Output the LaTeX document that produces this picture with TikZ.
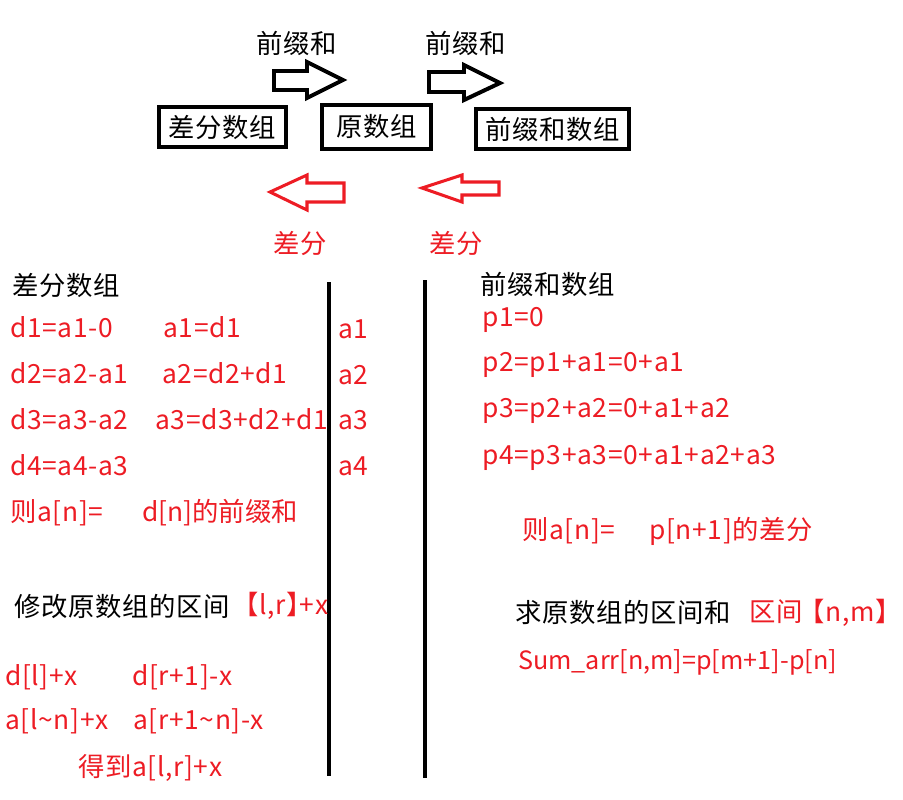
\documentclass[tikz,border=0pt]{standalone}
\usepackage{fontspec}
\setmainfont{Noto Sans CJK SC}[LetterSpace=2.5]
\newfontfamily\halffont{Noto Sans CJK SC}[LetterSpace=2.5, RawFeature=+halt]
\newfontfamily\tightfont{Noto Sans CJK SC}
\definecolor{pred}{RGB}{237,28,36}
\begin{document}
\begin{tikzpicture}[x=0.03cm,y=-0.03cm,
        txt/.style = {anchor=west, inner sep=0pt, font=\fontsize{22.5}{26}\selectfont},
        rtxt/.style = {txt, text=pred},
        box/.style = {draw, line width=3.4pt, inner sep=0pt, font=\fontsize{22.5}{26}\selectfont},
        barrow/.style = {draw, line width=3.4pt, line join=miter},
        rarrow/.style = {draw=pred, line width=2.6pt, line join=miter},
        bar/.style = {line width=3.4pt}]
    \useasboundingbox (0,0) rectangle (903,799);

    % top row
    \node[txt] (pre1) at (256,43) {前缀和};
    \node[txt] (pre2) at (425,43) {前缀和};
    \draw[barrow] (274,71) -- (307,71) -- (307,62) -- (343,80) -- (307,98) -- (307,90) -- (274,90) -- cycle;
    \draw[barrow] (429,72) -- (464,72) -- (464,65) -- (500,83) -- (464,100) -- (464,92) -- (429,92) -- cycle;
    \node[box, minimum width=3.81cm, minimum height=1.2cm] (diff) at (222.5,127) {差分数组};
    \node[box, minimum width=3.27cm, minimum height=1.32cm] (orig) at (376.5,127) {原数组};
    \node[box, minimum width=4.59cm, minimum height=1.2cm] (psum) at (552.5,129) {前缀和数组};
    \draw[rarrow] (344,183) -- (307,183) -- (307,175) -- (270,192) -- (307,210) -- (307,202) -- (344,202) -- cycle;
    \draw[rarrow] (499,182) -- (462,182) -- (462,175) -- (422,188) -- (462,202) -- (462,195) -- (499,195) -- cycle;
    \node[rtxt] (cf1) at (273,243) {差分};
    \node[rtxt] (cf2) at (429,243) {差分};

    % dividers
    \draw[bar] (329,282) -- (329,776);
    \draw[bar] (425,280) -- (425,778);

    % left part
    \node[txt] (dhead) at (12,285) {差分数组};
    \node[rtxt] (d1) at (10,327) {d1=a1-0};
    \node[rtxt] (d2) at (10,373) {d2=a2-a1};
    \node[rtxt] (d3) at (10,419) {d3=a3-a2};
    \node[rtxt] (d4) at (10,465) {d4=a4-a3};
    \node[rtxt] (e1) at (163,327) {a1=d1};
    \node[rtxt] (e2) at (162,373) {a2=d2+d1};
    \node[rtxt] (e3) at (155,419) {a3=d3+d2+d1};
    \node[rtxt] (dn1) at (10,513) {则a[n]=};
    \node[rtxt] (dn2) at (142,513) {\tightfont d[n]的前缀和};
    \node[rtxt] (a1) at (338,329) {a1};
    \node[rtxt] (a2) at (338,375) {a2};
    \node[rtxt] (a3) at (338,420) {a3};
    \node[rtxt] (a4) at (338,466) {a4};
    \node[txt] (mod) at (14,606) {修改原数组的区间};
    \node[rtxt] (rng) at (245,606) {\halffont【l,r】+x};
    \node[rtxt] (m1) at (5,677) {d[l]+x};
    \node[rtxt] (m2) at (132,677) {d[r+1]-x};
    \node[rtxt] (m3) at (5,721) {a[l\textasciitilde n]+x};
    \node[rtxt] (m4) at (133,721) {a[r+1\textasciitilde n]-x};
    \node[rtxt] (m5) at (78,768) {得到a[l,r]+x};

    % right part
    \node[txt] (phead) at (480,284) {前缀和数组};
    \node[rtxt] (p1) at (482,320) {p1=0};
    \node[rtxt] (p2) at (482,365) {p2=p1+a1=0+a1};
    \node[rtxt] (p3) at (482,411) {p3=p2+a2=0+a1+a2};
    \node[rtxt] (p4) at (482,458) {p4=p3+a3=0+a1+a2+a3};
    \node[rtxt] (pn1) at (522,531) {则a[n]=};
    \node[rtxt] (pn2) at (649,531) {p[n+1]的差分};
    \node[txt] (ask) at (515,612) {求原数组的区间和};
    \node[rtxt] (qj) at (749,613) {\halffont 区间\hspace{0.35em}【n,m】};
    \node[rtxt] (sum) at (518,662) {\tightfont\fontsize{21.5}{26}\selectfont Sum\_arr[n,m]=p[m+1]-p[n]};
\end{tikzpicture}
\end{document}
